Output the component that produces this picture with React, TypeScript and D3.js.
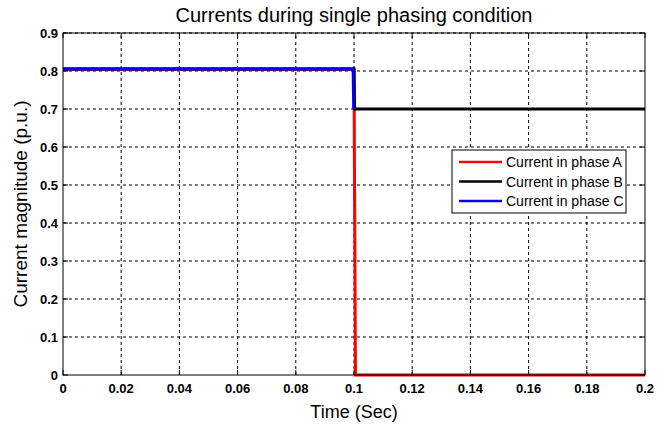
import React from "react";
import * as d3 from "d3";

const xTicks = [0, 0.02, 0.04, 0.06, 0.08, 0.1, 0.12, 0.14, 0.16, 0.18, 0.2];
const yTicks = [0, 0.1, 0.2, 0.3, 0.4, 0.5, 0.6, 0.7, 0.8, 0.9];

const phaseA: [number, number][] = [[0, 0.805], [0.1, 0.805], [0.1005, 0], [0.2, 0]];
const phaseB: [number, number][] = [[0, 0.805], [0.1, 0.805], [0.1002, 0.7], [0.2, 0.7]];
const phaseC: [number, number][] = [[0, 0.805], [0.0997, 0.805], [0.0999, 0.7]];

const seriesNames = ["Current in phase A", "Current in phase B", "Current in phase C"];
const seriesColors = ["#ff0000", "#000000", "#0000ff"];

export default function App() {
  const W = 665, H = 425;
  const m = { left: 63, right: 20, top: 33, bottom: 50 };
  const x = d3.scaleLinear().domain([0, 0.2]).range([m.left, W - m.right]);
  const y = d3.scaleLinear().domain([0, 0.9]).range([H - m.bottom, m.top]);
  const line = d3.line<[number, number]>().x(d => x(d[0])).y(d => y(d[1]));
  const x0 = x(0), x1 = x(0.2), y0 = y(0), y1 = y(0.9);
  const font = "Arial, 'Liberation Sans', sans-serif";
  const series = [phaseA, phaseB, phaseC];
  const lx = 452, ly = 150, lw = 174, lh = 63;
  return (
    <svg width={W} height={H} style={{ position: "absolute", left: 0, top: 0, background: "#fff" }}>
      <rect x={0} y={0} width={W} height={H} fill="#fff" />
      {/* grid */}
      {xTicks.slice(1, -1).map(t => (
        <line key={"gx" + t} x1={x(t)} x2={x(t)} y1={y0} y2={y1} stroke="#000" strokeWidth={1} strokeDasharray="3,3" />
      ))}
      {yTicks.slice(1).map(t => (
        <line key={"gy" + t} x1={x0} x2={x1} y1={y(t)} y2={y(t)} stroke="#000" strokeWidth={1} strokeDasharray="3,3" />
      ))}
      {/* series */}
      {series.map((s, i) => (
        <path key={i} d={line(s) || ""} fill="none" stroke={seriesColors[i]} strokeWidth={3} />
      ))}
      {/* axes box */}
      <rect x={x0} y={y1} width={x1 - x0} height={y0 - y1} fill="none" stroke="#000" strokeWidth={1} />
      {xTicks.map(t => (
        <g key={"tx" + t}>
          <line x1={x(t)} x2={x(t)} y1={y0} y2={y0 - 5} stroke="#000" />
          <line x1={x(t)} x2={x(t)} y1={y1} y2={y1 + 5} stroke="#000" />
          <text x={x(t)} y={y0 + 18} textAnchor="middle" fontFamily={font} fontWeight="bold" fontSize={13}>{String(t)}</text>
        </g>
      ))}
      {yTicks.map(t => (
        <g key={"ty" + t}>
          <line x1={x0} x2={x0 + 5} y1={y(t)} y2={y(t)} stroke="#000" />
          <line x1={x1} x2={x1 - 5} y1={y(t)} y2={y(t)} stroke="#000" />
          <text x={x0 - 5} y={y(t) + 4.5} textAnchor="end" fontFamily={font} fontWeight="bold" fontSize={13}>{String(t)}</text>
        </g>
      ))}
      {/* titles */}
      <text x={(x0 + x1) / 2} y={22} textAnchor="middle" fontFamily={font} fontSize={20}>Currents during single phasing condition</text>
      <text x={(x0 + x1) / 2} y={418} textAnchor="middle" fontFamily={font} fontSize={18}>Time (Sec)</text>
      <text transform={`translate(27,${(y0 + y1) / 2}) rotate(-90)`} textAnchor="middle" fontFamily={font} fontSize={19}>Current magnitude (p.u.)</text>
      {/* legend */}
      <rect x={lx} y={ly} width={lw} height={lh} fill="#fff" stroke="#000" strokeWidth={1} />
      {seriesNames.map((n, i) => (
        <g key={n}>
          <line x1={lx + 7} x2={lx + 50} y1={ly + 12 + i * 19.5} y2={ly + 12 + i * 19.5} stroke={seriesColors[i]} strokeWidth={2.5} />
          <text x={lx + 54} y={ly + 17 + i * 19.5} fontFamily={font} fontSize={14}>{n}</text>
        </g>
      ))}
    </svg>
  );
}
